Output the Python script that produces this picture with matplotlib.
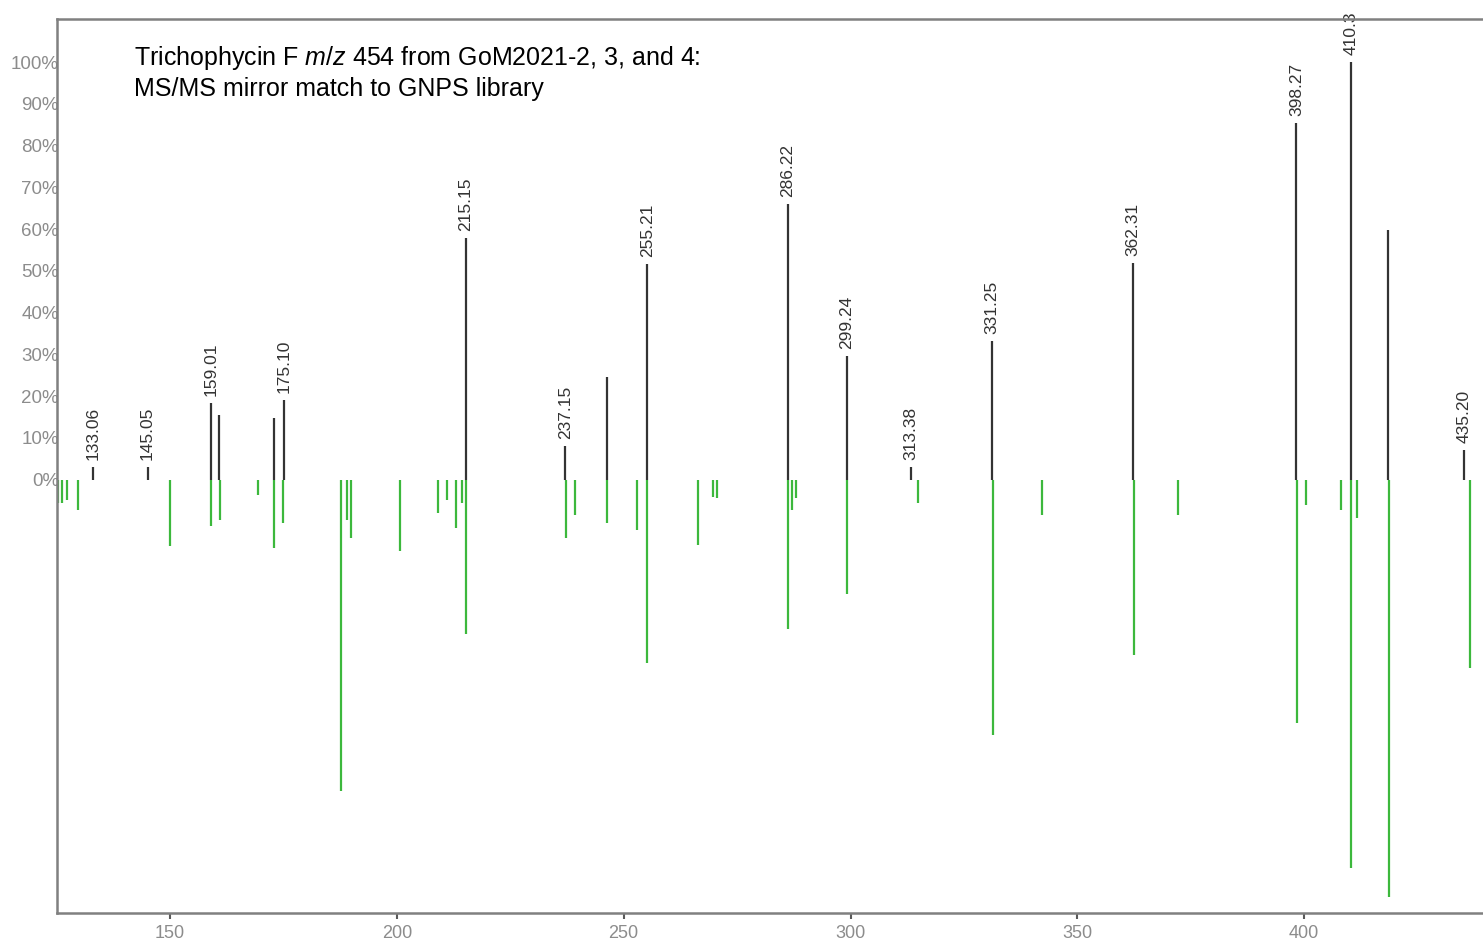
import numpy as np
import matplotlib.pyplot as plt

plt.rcParams['mathtext.fontset'] = 'custom'
plt.rcParams['mathtext.it'] = 'Liberation Sans:italic'
plt.rcParams['mathtext.rm'] = 'Liberation Sans'

# experimental spectrum (top, % relative intensity)
exp_mz = [133.06, 145.05, 159.01, 160.8, 172.9, 175.10, 215.15, 237.15, 246.3,
          255.21, 286.22, 299.24, 313.38, 331.25, 362.31, 398.27, 410.3, 418.5, 435.20]
exp_int = [3.0, 3.0, 18.4, 15.5, 14.8, 19.1, 57.9, 8.1, 24.6,
           51.7, 66.0, 29.7, 3.0, 33.3, 51.9, 85.4, 100.0, 59.8, 7.0]
exp_labels = ['133.06', '145.05', '159.01', '', '', '175.10', '215.15', '237.15', '',
              '255.21', '286.22', '299.24', '313.38', '331.25', '362.31', '398.27', '410.3', '', '435.20']

# GNPS library spectrum (bottom, % relative intensity)
lib_mz = [125.3, 126.2, 127.3, 129.7, 150.0, 159.0, 161.0, 169.4, 173.0, 175.0,
          187.7, 189.0, 190.0, 200.7, 209.1, 211.0, 213.0, 214.4, 215.2,
          237.2, 239.3, 246.3, 253.0, 255.1, 266.3, 269.6, 270.5, 286.3, 287.1, 287.9,
          299.2, 314.9, 331.5, 342.3, 362.4, 372.2, 398.4, 400.4, 408.2, 410.4, 411.6,
          418.6, 436.6]
lib_int = [5.5, 5.5, 5.0, 7.2, 16.0, 11.2, 9.8, 3.8, 16.3, 10.5,
           74.6, 9.8, 14.1, 17.0, 7.9, 5.0, 11.7, 5.5, 37.0,
           14.1, 8.4, 10.3, 12.0, 44.0, 15.6, 4.1, 4.5, 35.9, 7.4, 4.5,
           27.3, 5.5, 61.2, 8.6, 41.9, 8.4, 58.4, 6.2, 7.4, 93.0, 9.1,
           100.0, 45.2]

fig = plt.figure(figsize=(14.83, 9.43), dpi=100)
ax = fig.add_axes([57 / 1483, 30 / 943, 1 - 57 / 1483, (913 - 19) / 943])

ax.vlines(lib_mz, 0, -np.array(lib_int), color='#3cb83c', lw=1.6)
ax.vlines(exp_mz, 0, exp_int, color='#333333', lw=1.6)

for mz, h, lab in zip(exp_mz, exp_int, exp_labels):
    if lab:
        ax.annotate(lab, (mz, h), xytext=(0, 5), textcoords='offset points',
                    rotation=90, ha='center', va='bottom', fontsize=12.5,
                    color='#333333', family='Liberation Sans', annotation_clip=False)

ax.set_xlim(125.1, 439.4)
ax.set_ylim(-103.8, 110.3)

ax.set_yticks(np.arange(0, 101, 10))
ax.set_yticklabels(['%d%%' % v for v in range(0, 101, 10)])
ax.tick_params(axis='y', length=0, pad=-1.5, labelsize=13.5, labelcolor='#8c8c8c')
for t in ax.get_yticklabels():
    t.set_family('Liberation Sans')
    t.set_zorder(0)

ax.set_xticks([150, 200, 250, 300, 350, 400])
ax.tick_params(axis='x', length=4, width=1.5, color='#595959', pad=5,
               labelsize=13, labelcolor='#8c8c8c')
for t in ax.get_xticklabels():
    t.set_family(['Liberation Sans Narrow', 'Liberation Sans'])

for s in ['left', 'bottom', 'top']:
    ax.spines[s].set_color('#808080')
    ax.spines[s].set_linewidth(1.8)
    ax.spines[s].set_zorder(5)
ax.spines['right'].set_visible(False)

ax.text(134 / 1483, 1 - 58 / 943, 'Trichophycin F $m/z$ 454 from GoM2021-2, 3, and 4:',
        transform=fig.transFigure, fontsize=18, family='Liberation Sans', va='center')
ax.text(134 / 1483, 1 - 89 / 943, 'MS/MS mirror match to GNPS library',
        transform=fig.transFigure, fontsize=18, family='Liberation Sans', va='center')

fig.savefig('out.png', dpi=100)
